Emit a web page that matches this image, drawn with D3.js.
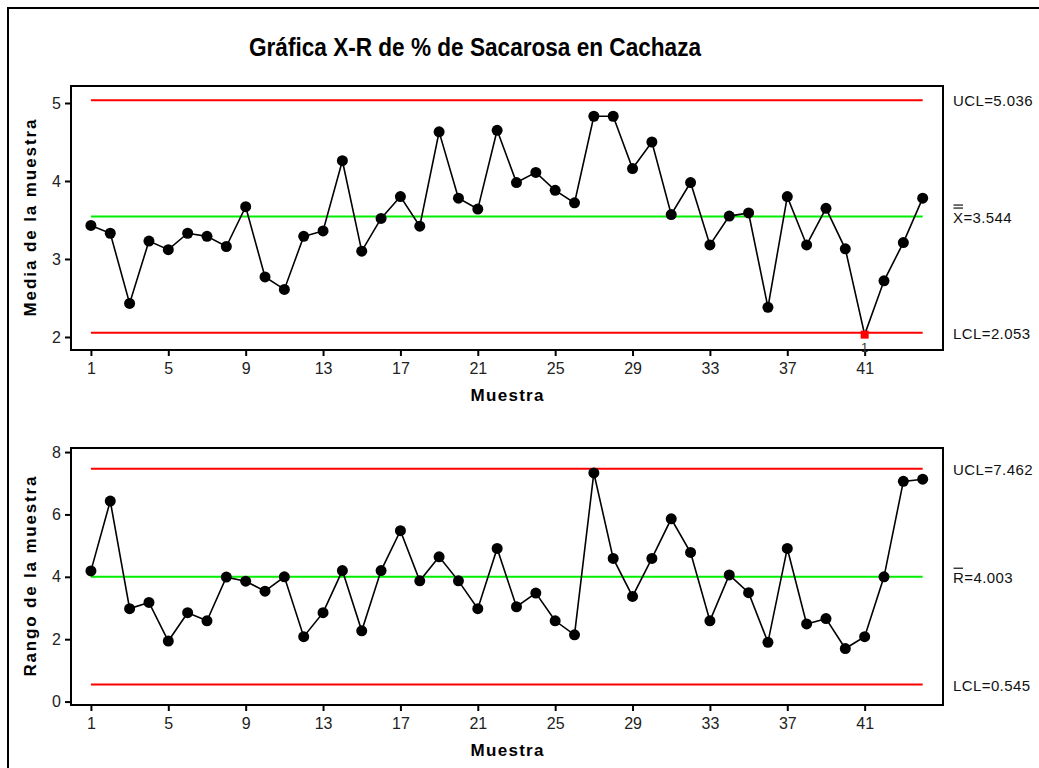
<!DOCTYPE html>
<html>
<head>
<meta charset="utf-8">
<script src="https://cdn.jsdelivr.net/npm/d3@7"></script>
<style>
  body { margin: 0; background: #fff; }
  text { font-family: "Liberation Sans", Arial, sans-serif; }
</style>
</head>
<body>
<svg id="chart" width="1039" height="768"></svg>
<script>
// sample numbers 1..44
var samples = d3.range(1, 45);

var meanValues = [3.43, 3.33, 2.43, 3.23, 3.12, 3.33, 3.29, 3.16, 3.67, 2.77,
  2.61, 3.29, 3.36, 4.26, 3.10, 3.52, 3.80, 3.42, 4.63, 3.78,
  3.64, 4.65, 3.98, 4.11, 3.88, 3.72, 4.83, 4.83, 4.16, 4.50,
  3.57, 3.98, 3.18, 3.55, 3.59, 2.38, 3.80, 3.18, 3.65, 3.13,
  2.03, 2.72, 3.21, 3.78];

var rangeValues = [4.19, 6.43, 2.98, 3.18, 1.94, 2.85, 2.59, 3.99, 3.86, 3.54,
  4.00, 2.08, 2.85, 4.20, 2.27, 4.20, 5.48, 3.87, 4.64, 3.87,
  2.98, 4.91, 3.04, 3.48, 2.59, 2.14, 7.33, 4.59, 3.37, 4.59,
  5.86, 4.78, 2.59, 4.06, 3.49, 1.90, 4.91, 2.49, 2.66, 1.70,
  2.08, 4.00, 7.06, 7.13];

var meanLimits = { ucl: 5.036, cl: 3.544, lcl: 2.053 };
var rangeLimits = { ucl: 7.462, cl: 4.003, lcl: 0.545 };

var xTicks = [1, 5, 9, 13, 17, 21, 25, 29, 33, 37, 41];
var meanTicks = [2, 3, 4, 5];
var rangeTicks = [0, 2, 4, 6, 8];

var svg = d3.select('svg#chart');

// outer frame (right and bottom edges fall outside the picture)
svg.append('rect')
  .attr('x', 8)
  .attr('y', 8)
  .attr('width', 1100)
  .attr('height', 800)
  .style('fill', 'none')
  .style('stroke', 'black')
  .style('stroke-width', 2);

svg.append('text')
  .attr('x', 475)
  .attr('y', 56)
  .attr('text-anchor', 'middle')
  .attr('textLength', 452)
  .attr('lengthAdjust', 'spacingAndGlyphs')
  .style('font-size', '26px')
  .style('font-weight', 'bold')
  .text('Gráfica X-R de % de Sacarosa en Cachaza');

var x = d3.scaleLinear()
  .domain([-0.03, 45.05])
  .range([71, 943]);

function drawPanel(cfg) {
  var y = d3.scaleLinear()
    .domain(cfg.domain)
    .range([cfg.bottom, cfg.top]);

  var g = svg.append('g');

  // plot box
  g.append('rect')
    .attr('x', 71)
    .attr('y', cfg.top)
    .attr('width', 943 - 71)
    .attr('height', cfg.bottom - cfg.top)
    .style('fill', 'none')
    .style('stroke', 'black')
    .style('stroke-width', 2);

  var xAxis = g.append('g')
    .attr('transform', 'translate(0,' + cfg.bottom + ')')
    .call(d3.axisBottom(x).tickValues(xTicks).tickFormat(d3.format('d'))
      .tickSize(6).tickPadding(7));
  var yAxis = g.append('g')
    .attr('transform', 'translate(71,0)')
    .call(d3.axisLeft(y).tickValues(cfg.ticks).tickFormat(d3.format('d'))
      .tickSize(6).tickPadding(4));

  [xAxis, yAxis].forEach(function (a) {
    a.select('.domain').remove();
    a.selectAll('.tick line').style('stroke', 'black').style('stroke-width', 2);
    a.selectAll('.tick text')
      .style('font-family', '"Liberation Sans", Arial, sans-serif')
      .style('font-size', '16px')
      .style('fill', '#222');
  });

  // control lines
  var limits = [
    { value: cfg.limits.ucl, color: '#ff0000' },
    { value: cfg.limits.cl, color: '#00ee00' },
    { value: cfg.limits.lcl, color: '#ff0000' }
  ];
  g.selectAll('line.limit')
    .data(limits)
    .enter()
    .append('line')
      .attr('class', 'limit')
      .attr('x1', x(1))
      .attr('x2', x(44))
      .attr('y1', function (d) { return y(d.value); })
      .attr('y2', function (d) { return y(d.value); })
      .style('stroke', function (d) { return d.color; })
      .style('stroke-width', 2);

  var line = d3.line()
    .x(function (d, i) { return x(samples[i]); })
    .y(function (d) { return y(d); });

  g.append('path')
    .datum(cfg.values)
    .attr('d', line)
    .style('fill', 'none')
    .style('stroke', 'black')
    .style('stroke-width', 1.6);

  var pts = cfg.values.map(function (v, i) {
    return { s: samples[i], v: v, out: v < cfg.limits.lcl || v > cfg.limits.ucl };
  });

  g.selectAll('circle.pt')
    .data(pts.filter(function (d) { return !d.out; }))
    .enter()
    .append('circle')
      .attr('class', 'pt')
      .attr('cx', function (d) { return x(d.s); })
      .attr('cy', function (d) { return y(d.v); })
      .attr('r', 5.5)
      .style('fill', 'black');

  var outs = pts.filter(function (d) { return d.out; });
  g.selectAll('rect.out')
    .data(outs)
    .enter()
    .append('rect')
      .attr('class', 'out')
      .attr('x', function (d) { return x(d.s) - 4; })
      .attr('y', function (d) { return y(d.v) - 4; })
      .attr('width', 8)
      .attr('height', 8)
      .style('fill', '#ff0000');
  g.selectAll('text.out')
    .data(outs)
    .enter()
    .append('text')
      .attr('class', 'out')
      .attr('x', function (d) { return x(d.s); })
      .attr('y', function (d) { return y(d.v) + 17; })
      .attr('text-anchor', 'middle')
      .style('font-size', '13px')
      .style('fill', '#333')
      .text('1');

  // right side labels
  var labels = [
    { value: cfg.limits.ucl, text: 'UCL=' + cfg.limits.ucl.toFixed(3), bars: 0 },
    { value: cfg.limits.cl, text: cfg.clName + '=' + cfg.limits.cl.toFixed(3), bars: cfg.clBars },
    { value: cfg.limits.lcl, text: 'LCL=' + cfg.limits.lcl.toFixed(3), bars: 0 }
  ];
  labels.forEach(function (d) {
    var yy = y(d.value) + 6;
    g.append('text')
      .attr('x', 953)
      .attr('y', yy)
      .style('font-size', '15px')
      .style('letter-spacing', '0.4px')
      .style('fill', '#111')
      .text(d.text);
    for (var k = 0; k < d.bars; k++) {
      g.append('line')
        .attr('x1', 953.5)
        .attr('x2', 963)
        .attr('y1', yy - 14.5 - k * 3)
        .attr('y2', yy - 14.5 - k * 3)
        .style('stroke', '#111')
        .style('stroke-width', 1.2);
    }
  });

  g.append('text')
    .attr('x', 507)
    .attr('y', cfg.bottom + 51)
    .attr('text-anchor', 'middle')
    .attr('textLength', 73)
    .style('font-size', '17px')
    .style('font-weight', 'bold')
    .text('Muestra');

  g.append('text')
    .attr('transform', 'translate(36,' + ((cfg.top + cfg.bottom) / 2) + ') rotate(-90)')
    .attr('text-anchor', 'middle')
    .attr('textLength', cfg.titleLen)
    .style('font-size', '17px')
    .style('font-weight', 'bold')
    .text(cfg.yTitle);
}

drawPanel({
  top: 86, bottom: 350,
  domain: [1.833, 5.218],
  ticks: meanTicks,
  values: meanValues,
  limits: meanLimits,
  clName: 'X', clBars: 2,
  yTitle: 'Media de la muestra',
  titleLen: 197
});

drawPanel({
  top: 448, bottom: 705,
  domain: [-0.11, 8.13],
  ticks: rangeTicks,
  values: rangeValues,
  limits: rangeLimits,
  clName: 'R', clBars: 1,
  yTitle: 'Rango de la muestra',
  titleLen: 200
});
</script>
</body>
</html>
